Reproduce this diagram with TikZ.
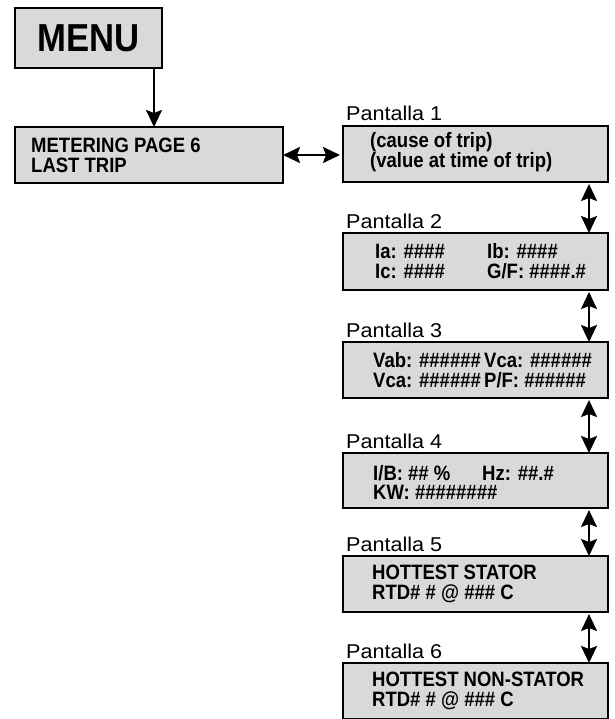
\documentclass[tikz,border=0pt]{standalone}
\usepackage{fontspec}
\setmainfont{Liberation Sans}
\newfontfamily\screenfont{Liberation Sans}[FakeStretch=0.89]
\newfontfamily\labelfont{Liberation Sans}[FakeStretch=1.08]
\usetikzlibrary{arrows.meta,positioning}

\definecolor{screengray}{RGB}{217,217,217}
\newcommand{\leftcol}[2]{\makebox[#1][l]{#2}}

\tikzset{
  screen/.style={draw, rectangle, line width=2.8pt, fill=screengray,
    minimum width=265pt, minimum height=56pt, inner sep=0pt, outer sep=0pt,
    anchor=north west},
  screentext/.style={font=\screenfont\fontsize{20.8}{19.8}\selectfont\bfseries,
    align=left, inner sep=0pt, anchor=west},
  screenlabel/.style={font=\labelfont\fontsize{20}{22}\selectfont, inner sep=0pt,
    anchor=base west},
  updown/.style={line width=2.2pt,
    {Stealth[length=17pt,width=16pt,inset=3pt]}-{Stealth[length=17pt,width=16pt,inset=3pt]}},
}

\begin{document}
\begin{tikzpicture}[x=1pt, y=-1pt]
  \clip (0,0) rectangle (614,719);

  % Menu and first page
  \node[screen, minimum width=147pt, minimum height=60pt,
        font=\screenfont\fontsize{39}{40}\selectfont\bfseries] (menu) at (15,8) {MENU};
  \node[screen, minimum width=268pt] (meter) at (15,127) {};
  \node[screentext] (metertxt) at ([xshift=16pt]meter.west) {METERING PAGE 6\\LAST TRIP};
  \draw[line width=2.2pt, -{Stealth[length=17pt,width=16pt,inset=3pt]}]
    ([xshift=-8pt]menu.south east) -- ([xshift=-8pt]menu.south east |- meter.north);

  % Pantalla 1
  \node[screen] (p1) at (343,126) {};
  \node[screenlabel] (p1lbl) at ([xshift=3pt,yshift=5pt]p1.north west) {Pantalla 1};
  \node[screentext] (p1txt) at ([xshift=27pt,yshift=2pt]p1.west) {(cause of trip)\\(value at time of trip)};
  \draw[updown, shorten >=3pt] (meter.east) -- (meter.east -| p1.west);

  % Pantalla 2
  \node[screen, minimum height=57pt] (p2) at (343,233) {};
  \node[screenlabel] (p2lbl) at ([xshift=3pt,yshift=5pt]p2.north west) {Pantalla 2};
  \node[screentext] (p2txt) at ([xshift=32pt]p2.west)
    {\leftcol{112pt}{Ia: \#\#\#\#}Ib: \#\#\#\#\\\leftcol{112pt}{Ic: \#\#\#\#}G/F: \#\#\#\#.\#};

  % Pantalla 3
  \node[screen] (p3) at (343,342) {};
  \node[screenlabel] (p3lbl) at ([xshift=3pt,yshift=5pt]p3.north west) {Pantalla 3};
  \node[screentext] (p3txt) at ([xshift=30pt]p3.west)
    {\leftcol{111pt}{Vab: \#\#\#\#\#\#}Vca: \#\#\#\#\#\#\\\leftcol{111pt}{Vca: \#\#\#\#\#\#}P/F: \#\#\#\#\#\#};

  % Pantalla 4
  \node[screen, minimum height=55pt] (p4) at (343,453) {};
  \node[screenlabel] (p4lbl) at ([xshift=3pt,yshift=5pt]p4.north west) {Pantalla 4};
  \node[screentext] (p4txt) at ([xshift=30pt,yshift=-2pt]p4.west)
    {\leftcol{109pt}{I/B: \#\# \%}Hz: \#\#.\#\\KW: \#\#\#\#\#\#\#\#};

  % Pantalla 5
  \node[screen] (p5) at (343,556) {};
  \node[screenlabel] (p5lbl) at ([xshift=3pt,yshift=5pt]p5.north west) {Pantalla 5};
  \node[screentext] (p5txt) at ([xshift=29pt]p5.west) {HOTTEST STATOR\\RTD\# \# @ \#\#\# C};

  % Pantalla 6 (runs off the bottom)
  \node[screen] (p6) at (343,663) {};
  \node[screenlabel] (p6lbl) at ([xshift=3pt,yshift=5pt]p6.north west) {Pantalla 6};
  \node[screentext] (p6txt) at ([xshift=29pt]p6.west) {HOTTEST NON-STATOR\\RTD\# \# @ \#\#\# C};

  % Arrows between screens
  \draw[updown, shorten <=2pt] ([xshift=-19pt]p1.south east) -- ([xshift=-19pt]p2.north east);
  \draw[updown, shorten <=2pt] ([xshift=-19pt]p2.south east) -- ([xshift=-19pt]p3.north east);
  \draw[updown, shorten <=2pt] ([xshift=-19pt]p3.south east) -- ([xshift=-19pt]p4.north east);
  \draw[updown, shorten <=2pt] ([xshift=-19pt]p4.south east) -- ([xshift=-19pt]p5.north east);
  \draw[updown, shorten <=2pt] ([xshift=-19pt]p5.south east) -- ([xshift=-19pt]p6.north east);
\end{tikzpicture}
\end{document}
